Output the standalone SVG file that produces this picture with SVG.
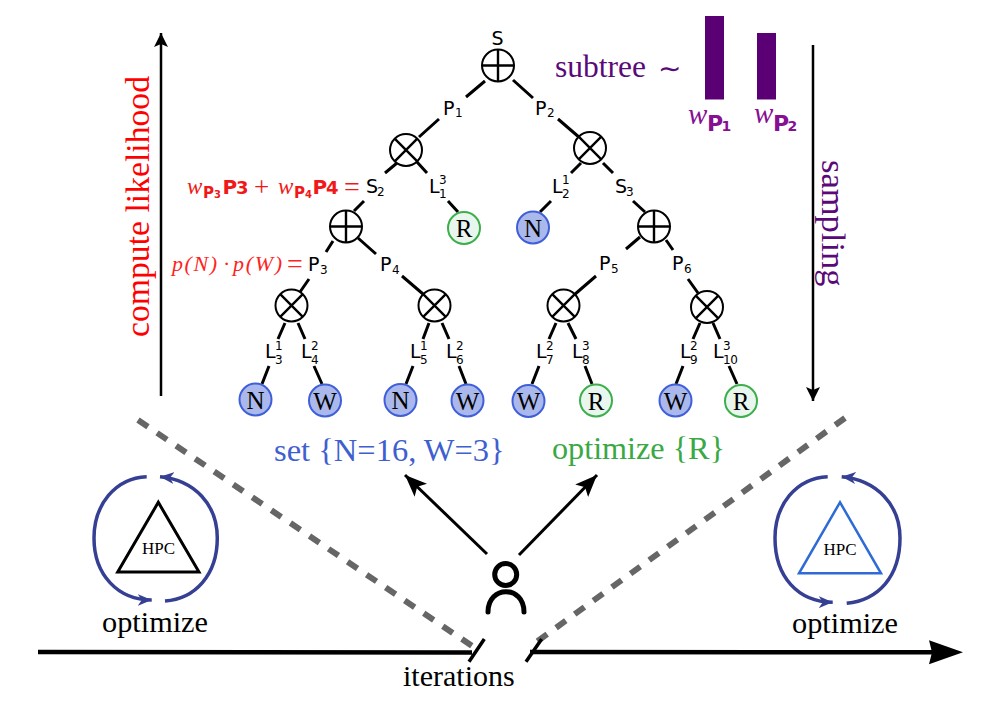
<svg xmlns="http://www.w3.org/2000/svg" width="996" height="703" viewBox="0 0 996 703">
<style>
  .bg{fill:#fff}
  .edge{stroke:#000;stroke-width:3;fill:none}
  .op{fill:#fff;stroke:#000;stroke-width:2}
  .mark{stroke:#000;stroke-width:2.4;fill:none}
  .blue{fill:#aab8ec;stroke:#3f5fd8;stroke-width:2}
  .green{fill:#e8f6ee;stroke:#3cae4c;stroke-width:2}
  .leaf{font:25px "Liberation Serif",serif;fill:#000;text-anchor:middle}
  .lb{font:19px "DejaVu Sans",sans-serif;fill:#000}
  .sub{font:12px "DejaVu Sans",sans-serif;fill:#000}
  .ser{font-family:"Liberation Serif",serif}
  .cyc{stroke:#353f93;stroke-width:3.5;fill:none}
  .dash{stroke:#666;stroke-width:6;stroke-dasharray:12 11;fill:none}
  .solid{stroke:#000;fill:none}
  .m{font-family:"Liberation Serif",serif;font-style:italic}
  .b{font-family:"DejaVu Sans",sans-serif;font-weight:bold}
</style>
<defs>
  <marker id="cycHead" markerUnits="userSpaceOnUse" markerWidth="16" markerHeight="12" refX="14" refY="6" orient="auto"><path d="M0,0 L14,6 L0,12 L4,6 Z" fill="#353f93"/></marker>
  <marker id="blackHead" markerUnits="userSpaceOnUse" markerWidth="24" markerHeight="20" refX="22" refY="10" orient="auto"><path d="M0,1 L22,10 L0,19 L5,10 Z" fill="#000"/></marker>
  <marker id="axisHead" markerUnits="userSpaceOnUse" markerWidth="36" markerHeight="26" refX="4" refY="13" orient="auto"><path d="M0,1 L34,13 L0,25 L3,13 Z" fill="#000"/></marker>
  <marker id="thinHead" markerUnits="userSpaceOnUse" markerWidth="16" markerHeight="16" refX="14" refY="8" orient="auto"><path d="M0,1 L14,8 L0,15 L3,8 Z" fill="#000"/></marker>
  <g id="plus"><circle class="op" r="16"/><path class="mark" d="M-16,0H16M0,-16V16"/></g>
  <g id="times"><circle class="op" r="16"/><path class="mark" d="M-11.3,-11.3L11.3,11.3M-11.3,11.3L11.3,-11.3"/></g>
</defs>
<rect class="bg" width="996" height="703"/>

<!-- connectors of the tree -->
<g id="connectors">
  <path class="edge" d="M485,81L466,97M439,119L419,137M397,163L385,173M417,162L427,173M364,201L354,211M448,201L458,212M333,241L326,252M358,238L376,254"/>
  <path class="edge" d="M513,80L533,98M558,119L580,138M581,163L571,173M603,163L613,173M551,201L540,212M633,201L645,212M640,237L626,249M666,240L673,250"/>
  <path class="edge" d="M309,279L300,292M402,276L423,294M596,276L574,295M688,279L698,293"/>
  <path class="edge" d="M285,323L278,339M298,323L305,339M269,366L262,384M314,366L322,384M429,323L423,339M442,323L449,339M413,366L406,384M459,366L466,384"/>
  <path class="edge" d="M556,323L549,339M568,323L576,339M539,366L532,384M585,366L592,384M700,323L693,339M713,323L720,339M683,366L676,384M729,366L737,384"/>
</g>

<!-- operator nodes -->
<g id="n-root"><use href="#plus" x="498" y="65.5"/></g>
<g id="n-x1"><use href="#times" x="406" y="150"/></g>
<g id="n-x2"><use href="#times" x="590" y="148"/></g>
<g id="n-s2"><use href="#plus" x="346" y="226.5"/></g>
<g id="n-s3"><use href="#plus" x="654" y="226.5"/></g>
<g id="n-x3"><use href="#times" x="291.5" y="305.5"/></g>
<g id="n-x4"><use href="#times" x="434.5" y="305.5"/></g>
<g id="n-x5"><use href="#times" x="563.5" y="305.5"/></g>
<g id="n-x6"><use href="#times" x="707" y="307"/></g>

<!-- leaf nodes -->
<g id="leaf-r1"><circle class="green" cx="464" cy="228" r="16"/><text class="leaf" x="464" y="237">R</text></g>
<g id="leaf-n1"><circle class="blue" cx="533" cy="227.5" r="16"/><text class="leaf" x="533" y="236.5">N</text></g>
<g id="leaf-n2"><circle class="blue" cx="255.5" cy="399.5" r="16"/><text class="leaf" x="255.5" y="408.5">N</text></g>
<g id="leaf-w1"><circle class="blue" cx="325" cy="400.5" r="16"/><text class="leaf" x="325" y="409.5">W</text></g>
<g id="leaf-n3"><circle class="blue" cx="400.5" cy="400" r="16"/><text class="leaf" x="400.5" y="409">N</text></g>
<g id="leaf-w2"><circle class="blue" cx="467.5" cy="400.5" r="16"/><text class="leaf" x="467.5" y="409.5">W</text></g>
<g id="leaf-w3"><circle class="blue" cx="528.5" cy="401" r="16"/><text class="leaf" x="528.5" y="410">W</text></g>
<g id="leaf-r2"><circle class="green" cx="596" cy="400.5" r="16"/><text class="leaf" x="596" y="409.5">R</text></g>
<g id="leaf-w4"><circle class="blue" cx="675.5" cy="400.5" r="16"/><text class="leaf" x="675.5" y="409.5">W</text></g>
<g id="leaf-r3"><circle class="green" cx="741" cy="401" r="16"/><text class="leaf" x="741" y="410">R</text></g>

<!-- edge and sum labels -->
<g id="labels">
  <text class="lb" x="491.5" y="45">S</text>
  <text class="lb" x="443" y="114.5">P</text><text class="sub" x="455" y="117">1</text>
  <text class="lb" x="535" y="114.5">P</text><text class="sub" x="547" y="117">2</text>
  <text class="lb" x="366" y="192.5">S</text><text class="sub" x="377" y="196">2</text>
  <text class="lb" x="429" y="192.5">L</text><text class="sub" x="439" y="183.5">3</text><text class="sub" x="439" y="197.5">1</text>
  <text class="lb" x="552" y="192.5">L</text><text class="sub" x="562" y="183.5">1</text><text class="sub" x="562" y="197.5">2</text>
  <text class="lb" x="615" y="192.5">S</text><text class="sub" x="626" y="196">3</text>
  <text class="lb" x="308" y="271">P</text><text class="sub" x="320" y="274">3</text>
  <text class="lb" x="380" y="271">P</text><text class="sub" x="392" y="274">4</text>
  <text class="lb" x="599" y="270">P</text><text class="sub" x="611" y="273">5</text>
  <text class="lb" x="672" y="270">P</text><text class="sub" x="684" y="273">6</text>
  <text class="lb" x="265" y="358">L</text><text class="sub" x="275" y="349.5">1</text><text class="sub" x="275" y="363.5">3</text>
  <text class="lb" x="301" y="358">L</text><text class="sub" x="311" y="349.5">2</text><text class="sub" x="311" y="363.5">4</text>
  <text class="lb" x="410" y="358">L</text><text class="sub" x="420" y="349.5">1</text><text class="sub" x="420" y="363.5">5</text>
  <text class="lb" x="446" y="358">L</text><text class="sub" x="456" y="349.5">2</text><text class="sub" x="456" y="363.5">6</text>
  <text class="lb" x="536" y="358">L</text><text class="sub" x="546" y="349.5">2</text><text class="sub" x="546" y="363.5">7</text>
  <text class="lb" x="572" y="358">L</text><text class="sub" x="582" y="349.5">3</text><text class="sub" x="582" y="363.5">8</text>
  <text class="lb" x="680" y="358">L</text><text class="sub" x="690" y="349.5">2</text><text class="sub" x="690" y="363.5">9</text>
  <text class="lb" x="713" y="358">L</text><text class="sub" x="723" y="349.5">3</text><text class="sub" x="723" y="363.5" textLength="15">10</text>
  <g fill="#f01818">
    <text class="m" font-size="23" x="187" y="193.5">w</text>
    <text class="b" font-size="15" x="203" y="198">P</text>
    <text class="b" font-size="10" x="214" y="198">3</text>
    <text class="b" font-size="20" x="222.5" y="194">P</text>
    <text class="b" font-size="18" x="236" y="194">3</text>
    <text class="ser" font-size="27" x="254" y="196">+</text>
    <text class="m" font-size="23" x="278" y="193.5">w</text>
    <text class="b" font-size="15" x="294" y="198">P</text>
    <text class="b" font-size="10" x="305" y="198">4</text>
    <text class="b" font-size="20" x="312.5" y="194">P</text>
    <text class="b" font-size="18" x="326" y="194">4</text>
    <text class="ser" font-size="28" x="344" y="196">=</text>
  </g>
  <g fill="#f22">
    <text class="m" font-size="22" x="172" y="271" textLength="45">p(N)</text>
    <text class="ser" font-size="22" x="223" y="271">·</text>
    <text class="m" font-size="22" x="233" y="271" textLength="49">p(W)</text>
    <text class="ser" font-size="28" x="287" y="273">=</text>
  </g>
</g>

<!-- sampling weights -->
<g id="weights">
  <text class="ser" x="555" y="77" font-size="31.5" fill="#5a0a78">subtree</text>
  <text x="658" y="78" font-size="28" font-family="DejaVu Sans,sans-serif" fill="#5a0a78">∼</text>
  <rect x="705" y="16" width="19" height="83.5" fill="#5a0074"/>
  <rect x="757" y="33" width="19" height="66.5" fill="#5a0074"/>
  <g fill="#860f92">
    <text class="m" font-size="29" x="688" y="124">w</text>
    <text class="b" font-size="22" x="707" y="131">P</text>
    <text class="b" font-size="14" x="721.5" y="131">1</text>
    <text class="m" font-size="29" x="754" y="123">w</text>
    <text class="b" font-size="22" x="773" y="131">P</text>
    <text class="b" font-size="14" x="787.5" y="131">2</text>
  </g>
</g>

<!-- direction arrows -->
<g id="flow">
  <path class="solid" stroke-width="2.5" marker-end="url(#thinHead)" d="M161,396V33"/>
  <text class="ser" transform="translate(149,337) rotate(-90)" font-size="33.7" fill="#f00">compute likelihood</text>
  <path class="solid" stroke-width="2.5" marker-end="url(#thinHead)" d="M813,45V401"/>
  <text class="ser" transform="translate(822,160) rotate(90)" font-size="34.5" fill="#5a0a78">sampling</text>
</g>

<!-- choices made by the user -->
<g id="choices">
  <text class="ser" x="274" y="461" font-size="32.5" fill="#3f5fd0">set {N=16, W=3}</text>
  <text class="ser" x="552" y="459" font-size="32.2" fill="#3aa845">optimize {R}</text>
  <path class="solid" stroke-width="3" marker-end="url(#blackHead)" d="M487,554L405,475"/>
  <path class="solid" stroke-width="3" marker-end="url(#blackHead)" d="M519,555L597,475"/>
</g>

<g id="user">
  <circle cx="505.7" cy="574.5" r="11" fill="none" stroke="#000" stroke-width="5"/>
  <path d="M488,612C488,585 524,585 524,612" fill="none" stroke="#000" stroke-width="5" stroke-linecap="round"/>
</g>

<!-- dashed separators -->
<g id="separators">
  <path class="dash" d="M138,420L478,650"/>
  <path class="dash" d="M845,418L535,643"/>
</g>

<!-- local optimisation cycles -->
<g id="hpc-left">
  <path class="cyc" d="M146.7,476.7C115,478 94,505 94,538C94,575 118,600 151.7,600" marker-end="url(#cycHead)"/>
  <path class="cyc" d="M165,601C195,599 217.3,575 217.3,538C217.3,505 195,480 160,476.7" marker-end="url(#cycHead)"/>
  <path d="M158.3,502.3L117.7,572H199Z" fill="none" stroke="#000" stroke-width="3"/>
  <text class="ser" x="158.5" y="554" font-size="17" text-anchor="middle">HPC</text>
  <text class="ser" x="102" y="632" font-size="30.3">optimize</text>
</g>
<g id="hpc-right">
  <path class="cyc" d="M827.7,476.7C796,478 775,505 775,538C775,577 798,602 832.7,602.3" marker-end="url(#cycHead)"/>
  <path class="cyc" d="M846.7,603.3C878,600 900,577 900,538C900,505 877,480 841.7,476.7" marker-end="url(#cycHead)"/>
  <path d="M840,502.3L799,573.3H881Z" fill="none" stroke="#2f6bd6" stroke-width="2.5"/>
  <text class="ser" x="840" y="555" font-size="17" text-anchor="middle">HPC</text>
  <text class="ser" x="792" y="633" font-size="30.3">optimize</text>
</g>

<!-- time axis -->
<g id="axis">
  <path class="solid" stroke-width="4.5" d="M38,652L472,652.5"/>
  <path class="solid" stroke-width="4.5" marker-end="url(#axisHead)" d="M530,652L933,652.3"/>
  <path class="solid" stroke-width="3.5" d="M484.3,639L469,661.7M541.7,639L526,661.7"/>
  <text class="ser" x="403" y="686" font-size="30">iterations</text>
</g>
</svg>
